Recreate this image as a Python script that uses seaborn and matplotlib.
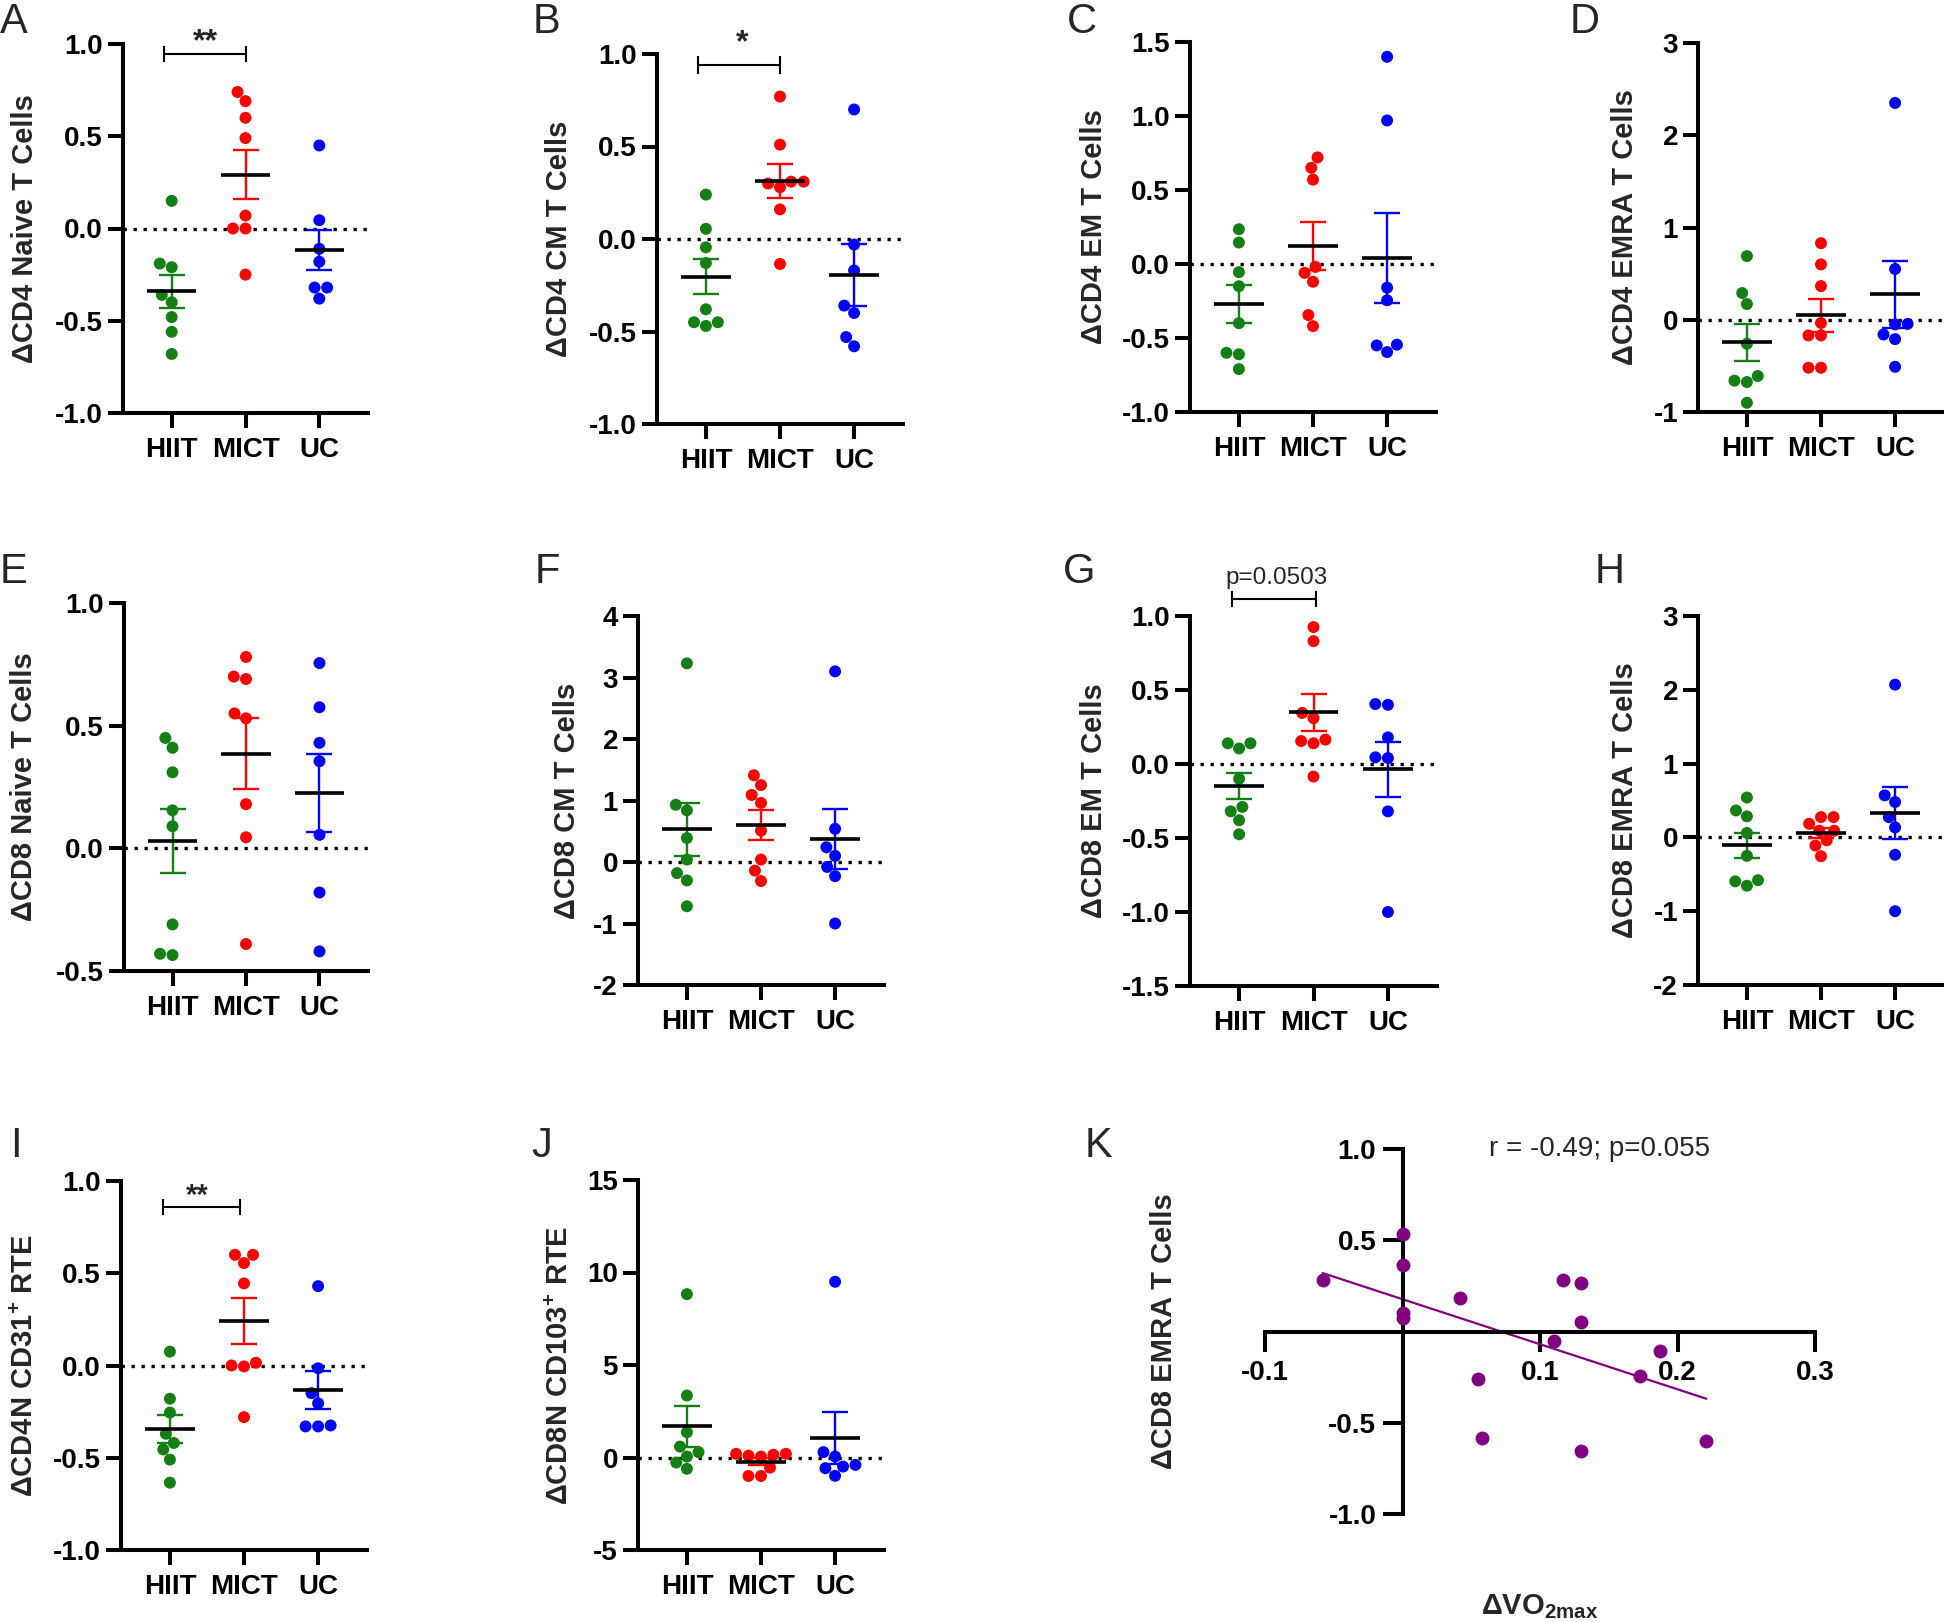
import numpy as np
import pandas as pd
import matplotlib
matplotlib.use("Agg")
import matplotlib.pyplot as plt
import seaborn as sns
from matplotlib.ticker import FixedLocator, FixedFormatter

# ---------------- data ----------------
groups = ["HIIT", "MICT", "UC"]
group_colors = ["#147f14", "#ff0000", "#0000ff"]

a_hiit = [0.15, -0.19, -0.21, -0.36, -0.40, -0.48, -0.56, -0.68]
a_mict = [0.74, 0.69, 0.60, 0.49, 0.07, 0.0, 0.0, -0.25]
a_uc = [0.45, 0.045, -0.11, -0.18, -0.32, -0.32, -0.38]

b_hiit = [0.24, 0.055, -0.045, -0.13, -0.38, -0.45, -0.45, -0.47]
b_mict = [0.77, 0.51, 0.31, 0.31, 0.30, 0.28, 0.16, -0.135]
b_uc = [0.70, -0.03, -0.17, -0.36, -0.40, -0.53, -0.58]

c_hiit = [0.235, 0.145, -0.055, -0.15, -0.40, -0.60, -0.61, -0.71]
c_mict = [0.72, 0.65, 0.57, -0.02, -0.06, -0.12, -0.345, -0.42]
c_uc = [1.40, 0.97, -0.16, -0.245, -0.545, -0.55, -0.595]

d_hiit = [0.69, 0.29, 0.17, -0.26, -0.61, -0.66, -0.675, -0.90]
d_mict = [0.83, 0.60, 0.365, -0.035, -0.17, -0.17, -0.52, -0.52]
d_uc = [2.35, 0.55, -0.05, -0.045, -0.16, -0.21, -0.51]

e_hiit = [0.45, 0.41, 0.31, 0.155, 0.09, -0.31, -0.43, -0.435]
e_mict = [0.78, 0.70, 0.69, 0.55, 0.53, 0.18, 0.045, -0.39]
e_uc = [0.755, 0.575, 0.43, 0.355, 0.055, -0.18, -0.42]

f_hiit = [3.23, 0.93, 0.84, 0.39, 0.04, -0.18, -0.30, -0.72]
f_mict = [1.41, 1.25, 1.09, 0.96, 0.51, 0.04, -0.14, -0.31]
f_uc = [3.10, 0.54, 0.24, 0.10, -0.08, -0.23, -1.0]

g_hiit = [0.14, 0.14, 0.105, -0.10, -0.29, -0.32, -0.38, -0.475]
g_mict = [0.925, 0.83, 0.345, 0.31, 0.165, 0.155, 0.14, -0.085]
g_uc = [0.405, 0.40, 0.18, 0.04, 0.045, -0.32, -1.0]

h_hiit = [0.54, 0.365, 0.285, 0.06, -0.25, -0.58, -0.595, -0.655]
h_mict = [0.275, 0.275, 0.185, 0.09, 0.09, -0.04, -0.11, -0.255]
h_uc = [2.07, 0.57, 0.48, 0.275, 0.135, -0.235, -1.0]

i_hiit = [0.075, -0.18, -0.255, -0.37, -0.42, -0.455, -0.51, -0.635]
i_mict = [0.60, 0.60, 0.555, 0.445, 0.015, 0.0, -0.005, -0.28]
i_uc = [0.43, -0.015, -0.15, -0.205, -0.325, -0.33, -0.33]

j_hiit = [8.83, 3.35, 1.37, 0.59, 0.29, 0.05, -0.27, -0.61]
j_mict = [0.2, 0.2, 0.15, 0.1, 0.05, -0.55, -1.0, -1.0]
j_uc = [9.5, 0.29, 0.05, -0.40, -0.49, -0.58, -0.99]

k_vo2 = [-0.058, 0.0, 0.0, 0.0, 0.0, 0.042, 0.117, 0.13, 0.13, 0.11,
         0.187, 0.173, 0.055, 0.058, 0.13, 0.221]
k_emra = [0.283, 0.535, 0.365, 0.10, 0.073, 0.182, 0.283, 0.268, 0.051, -0.051,
          -0.106, -0.246, -0.259, -0.584, -0.657, -0.602]
k_color = "#800080"
k_stat_text = "r = -0.49; p=0.055"

# ---------------- style ----------------
sns.set_style("ticks")
plt.rcParams["font.family"] = ["Liberation Sans", "DejaVu Sans"]
plt.rcParams["axes.unicode_minus"] = False
plt.rcParams["mathtext.fontset"] = "custom"
plt.rcParams["mathtext.rm"] = "Liberation Sans"
plt.rcParams["mathtext.bf"] = "Liberation Sans:bold"
plt.rcParams["mathtext.it"] = "Liberation Sans:italic"

W, H = 1944, 1622
fig = plt.figure(figsize=(W / 100, H / 100), dpi=100)


def add_ax(left, right, top, bottom):
    return fig.add_axes([left / W, 1 - bottom / H, (right - left) / W, (bottom - top) / H])


def fmt_ticks(ticks, decimals):
    return [f"{t:.{decimals}f}" for t in ticks]


def cat_panel(box, series, ylabel, ylim, yticks, decimals, label_off):
    ax = add_ax(*box)
    vals = np.concatenate([np.asarray(s, float) for s in series])
    grp = np.repeat(groups, [len(s) for s in series])
    df = pd.DataFrame({"group": grp, "value": vals})
    sns.swarmplot(data=df, x="group", y="value", hue="group", order=groups,
                  hue_order=groups, palette=group_colors, size=8.6, linewidth=0,
                  ax=ax, legend=False, zorder=2)
    for i, (s, c) in enumerate(zip(series, group_colors)):
        arr = np.asarray(s, float)
        m = arr.mean()
        se = arr.std(ddof=1) / np.sqrt(len(arr))
        ax.errorbar(i, m, yerr=se, fmt="none", ecolor=c, elinewidth=1.7,
                    capsize=9.4, capthick=1.7, zorder=3)
        ax.hlines(m, i - 0.335, i + 0.335, color="black", lw=2.6, zorder=4)
    ax.axhline(0, color="black", lw=2.4, ls=(0, (1, 2.0)), zorder=1)
    ax.set_xlim(-0.66, 2.66)
    ax.set_ylim(*ylim)
    ax.yaxis.set_major_locator(FixedLocator(yticks))
    ax.yaxis.set_major_formatter(FixedFormatter(fmt_ticks(yticks, decimals)))
    ax.set_xlabel("")
    ax.set_ylabel(ylabel, fontsize=21, fontweight="bold")
    width_px = box[1] - box[0]
    ax.yaxis.set_label_coords(label_off / width_px, 0.5)
    sns.despine(ax=ax)
    for sp in ("left", "bottom"):
        ax.spines[sp].set_linewidth(2.9)
        ax.spines[sp].set_color("black")
    ax.tick_params(axis="both", direction="out", length=10.8, width=2.9,
                   colors="black", labelsize=20)
    ax.tick_params(axis="x", pad=6.5)
    ax.tick_params(axis="y", pad=3.6)
    for lab in ax.get_xticklabels() + ax.get_yticklabels():
        lab.set_fontweight("bold")
    return ax


def bracket(ax, x0, x1, y, h, text, tx, ty, size, weight):
    kw = dict(color="black", lw=1.5, clip_on=False, solid_capstyle="butt")
    ax.plot([x0, x1], [y, y], **kw)
    ax.plot([x0, x0], [y - h, y + h], **kw)
    ax.plot([x1, x1], [y - h, y + h], **kw)
    ax.text(tx, ty, text, ha="center", va="baseline", fontsize=size,
            fontweight=weight, clip_on=False)


half = [-1.0, -0.5, 0.0, 0.5, 1.0]

axA = cat_panel((123, 368, 44, 413), [a_hiit, a_mict, a_uc], "ΔCD4 Naive T Cells",
                (-1, 1), half, 1, -84)
bracket(axA, -0.11, 1.01, 0.946, 0.043, "**", 0.45, 0.968, 23, "bold")

axB = cat_panel((657, 903, 54, 424), [b_hiit, b_mict, b_uc], "ΔCD4 CM T Cells",
                (-1, 1), half, 1, -84)
bracket(axB, -0.11, 1.0, 0.94, 0.049, "*", 0.49, 1.017, 23, "bold")

axC = cat_panel((1190, 1436, 42, 412), [c_hiit, c_mict, c_uc], "ΔCD4 EM T Cells",
                (-1, 1.5), [-1.0, -0.5, 0.0, 0.5, 1.0, 1.5], 1, -82)

axD = cat_panel((1698, 1944, 43, 412), [d_hiit, d_mict, d_uc], "ΔCD4 EMRA T Cells",
                (-1, 3), [-1, 0, 1, 2, 3], 0, -59)

axE = cat_panel((124, 368, 603, 971), [e_hiit, e_mict, e_uc], "ΔCD8 Naive T Cells",
                (-0.5, 1), [-0.5, 0.0, 0.5, 1.0], 1, -86)

axF = cat_panel((638, 884, 616, 985), [f_hiit, f_mict, f_uc], "ΔCD8 CM T Cells",
                (-2, 4), [-2, -1, 0, 1, 2, 3, 4], 0, -57)

axG = cat_panel((1190, 1437, 616, 986), [g_hiit, g_mict, g_uc], "ΔCD8 EM T Cells",
                (-1.5, 1), [-1.5, -1.0, -0.5, 0.0, 0.5, 1.0], 1, -82)
bracket(axG, -0.095, 1.03, 1.115, 0.054, "p=0.0503", 0.507, 1.216, 17.5, "normal")

axH = cat_panel((1698, 1944, 616, 985), [h_hiit, h_mict, h_uc], "ΔCD8 EMRA T Cells",
                (-2, 3), [-2, -1, 0, 1, 2, 3], 0, -59)

axI = cat_panel((121, 367, 1181, 1550), [i_hiit, i_mict, i_uc],
                r"ΔCD4N CD31$^{\mathbf{+}}$ RTE", (-1, 1), half, 1, -82)
bracket(axI, -0.095, 0.95, 0.86, 0.043, "**", 0.365, 0.875, 21, "bold")

axJ = cat_panel((638, 884, 1180, 1550), [j_hiit, j_mict, j_uc],
                r"ΔCD8N CD103$^{\mathbf{+}}$ RTE", (-5, 15), [-5, 0, 5, 10, 15], 0, -64)

# ---------------- panel K ----------------
kbox = (1265, 1815, 1149, 1514)
axK = add_ax(*kbox)
sns.regplot(x=k_vo2, y=k_emra, ci=None, ax=axK, color=k_color,
            scatter_kws=dict(s=100, linewidths=0, alpha=1, zorder=3),
            line_kws=dict(lw=1.6, zorder=2))
axK.set_xlim(-0.1, 0.3)
axK.set_ylim(-1, 1)
axK.spines["left"].set_position(("data", 0))
axK.spines["bottom"].set_position(("data", 0))
axK.spines["top"].set_visible(False)
axK.spines["right"].set_visible(False)
for sp in ("left", "bottom"):
    axK.spines[sp].set_linewidth(2.9)
    axK.spines[sp].set_color("black")
kx = [-0.1, 0.1, 0.2, 0.3]
ky = [-1.0, -0.5, 0.5, 1.0]
axK.xaxis.set_major_locator(FixedLocator(kx))
axK.xaxis.set_major_formatter(FixedFormatter(fmt_ticks(kx, 1)))
axK.yaxis.set_major_locator(FixedLocator(ky))
axK.yaxis.set_major_formatter(FixedFormatter(fmt_ticks(ky, 1)))
axK.tick_params(axis="both", direction="out", length=14.4, width=2.9,
                labelsize=20, colors="black")
axK.tick_params(axis="x", pad=6)
axK.tick_params(axis="y", pad=4.5)
for lab in axK.get_xticklabels() + axK.get_yticklabels():
    lab.set_fontweight("bold")
axK.set_ylabel("ΔCD8 EMRA T Cells", fontsize=21, fontweight="bold")
axK.yaxis.set_label_coords(-87 / (kbox[1] - kbox[0]), 0.5)
axK.set_xlabel(r"ΔVO$_{\mathbf{2max}}$", fontsize=21, fontweight="bold")
axK.xaxis.set_label_coords(0.5, -0.214)
axK.xaxis.label.set_verticalalignment("top")
axK.text(0.143, 1.0, k_stat_text, ha="center", va="center",
         fontsize=20, fontweight="normal")

# ---------------- panel letters ----------------
letters = [("A", 0, 33), ("B", 533, 33), ("C", 1067, 33), ("D", 1570, 33),
           ("E", 0, 583), ("F", 535, 583), ("G", 1063, 583), ("H", 1595, 583),
           ("I", 10, 1157), ("J", 531, 1157), ("K", 1085, 1157)]
for txt, xp, yp in letters:
    fig.text(xp / W, 1 - yp / H, txt, fontsize=30, fontweight="normal",
             ha="left", va="baseline")

fig.savefig("out.png", dpi=100, facecolor="white")
